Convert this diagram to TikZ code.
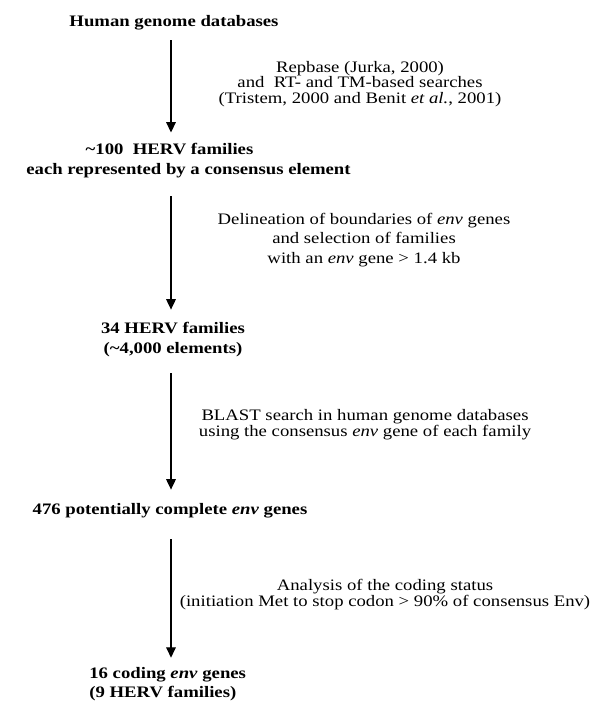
\documentclass[tikz,border=0pt]{standalone}
\usepackage{fontspec}
\setmainfont{Liberation Serif}[FakeStretch=1.17]
\usetikzlibrary{arrows.meta, positioning}

\begin{document}
\begin{tikzpicture}[x=0.625pt,y=-0.625pt,>={Triangle[length=6.5pt,width=6pt]}]
    \tikzstyle{stage}=[font=\fontsize{10pt}{12.2pt}\selectfont\bfseries,align=center,inner sep=0pt]
    \tikzstyle{note}=[font=\fontsize{10pt}{9.7pt}\selectfont,align=center,inner sep=0pt]

    \useasboundingbox (0,0) rectangle (590,703);
    \coordinate (X) at (171,0);

    \node[stage] (N1) at (174,23) {Human genome databases};
    \node[stage] (N2) at (188.5,160.5) {\textasciitilde 100\ \ HERV families\hspace*{23.75pt}\\ each represented by a consensus element};
    \node[stage] (N3) at (173,339.5) {34 HERV families\\ (\textasciitilde 4,000 elements)};
    \node[stage] (N4) at (170,511) {476 potentially complete \textit{env} genes};
    \node[stage, anchor=west, align=left] (N5) at (89,684) {16 coding \textit{env} genes\\ (9 HERV families)};

    \node[note] (L1) at (360,84) {Repbase (Jurka, 2000)\\ and\ \ RT- and TM-based searches\\ (Tristem, 2000 and Benit \textit{et al.}, 2001)};
    \node[note, font=\fontsize{10pt}{12.2pt}\selectfont] (L2) at (364,240) {Delineation of boundaries of \textit{env} genes\\ and selection of families\\ with an \textit{env} gene > 1.4 kb};
    \node[note] (L3) at (365,424.5) {BLAST search in human genome databases\\ using the consensus \textit{env} gene of each family};
    \node[note] (L4) at (385,594.5) {Analysis of the coding status\\ (initiation Met to stop codon > 90\% of consensus Env)};

    \path[->,line width=0.8pt]
    (N1.south -| X) edge[shorten <=6.1pt, shorten >=6.6pt] (N2.north -| X)
    (N2.south -| X) edge[shorten <=11.6pt, shorten >=7.8pt] (N3.north -| X)
    (N3.south -| X) edge[shorten <=10.3pt, shorten >=8.6pt] (N4.north -| X)
    (N4.south -| X) edge[shorten <=13pt, shorten >=5.6pt] (N5.north -| X)
    ;

\end{tikzpicture}
\end{document}
